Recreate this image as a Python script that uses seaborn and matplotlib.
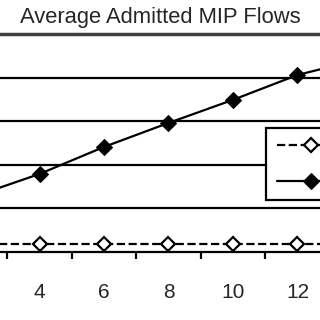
import seaborn as sns
import matplotlib.pyplot as plt
import pandas as pd

# values (y in the chart's hidden units, 0..50)
flows = [2, 4, 6, 8, 10, 12, 14]
dashed_vals = [1.8, 1.8, 1.8, 1.8, 1.8, 1.8, 1.8]
solid_vals = [12.8, 17.9, 24.1, 29.6, 34.9, 40.6, 44.3]
tick_labels = ["4", "6", "8", "10", "12"]

sns.set_style("white")
plt.rcParams["font.family"] = ["Liberation Sans", "DejaVu Sans"]

df = pd.DataFrame({"flows": flows, "dashed": dashed_vals, "solid": solid_vals})

fig = plt.figure(figsize=(3.2, 3.2), dpi=100)
ax = fig.add_axes([0, 0.2125, 1, 0.68125])

sns.lineplot(data=df, x="flows", y="dashed", ax=ax, color="black", linestyle="--",
             linewidth=1.6, marker="D", markersize=7, markerfacecolor="white",
             markeredgecolor="black", markeredgewidth=1.6)
sns.lineplot(data=df, x="flows", y="solid", ax=ax, color="black", linestyle="-",
             linewidth=1.6, marker="D", markersize=8, markerfacecolor="black",
             markeredgecolor="black")

ax.set_xlim(2.775, 12.698)
ax.set_ylim(0, 50)
ax.set_yticks([10, 20, 30, 40])
ax.yaxis.grid(True, color="black", linewidth=1.6)
ax.set_axisbelow(True)
ax.tick_params(axis="y", left=False, labelleft=False)

ax.set_xticks([3, 5, 7, 9, 11])
ax.set_xticklabels([])
ax.set_xticks([4, 6, 8, 10, 12], minor=True)
ax.set_xticklabels(tick_labels, minor=True)
ax.tick_params(axis="x", which="major", direction="out", length=5, width=1.6,
               color="black", bottom=True)
ax.tick_params(axis="x", which="minor", length=0, labelsize=15, pad=22)
ax.set_xlabel("")
ax.set_ylabel("")

for side in ["left", "right"]:
    ax.spines[side].set_visible(False)
ax.spines["top"].set_color("#404040")
ax.spines["top"].set_linewidth(2.5)
ax.spines["bottom"].set_color("black")
ax.spines["bottom"].set_linewidth(1.6)

fig.text(0.5, 0.945, "Average Admitted MIP Flows", ha="center", va="center",
         fontsize=15.8)

# legend labels fall outside the cropped picture, so only the handles show
leg = ax.legend(handles=ax.lines[:2], labels=["", ""], loc="upper left",
                bbox_to_anchor=(266 / 320, 1 - 128 / 320),
                bbox_transform=fig.transFigure, borderaxespad=0, frameon=True,
                fancybox=False, framealpha=1, edgecolor="black", fontsize=10,
                handlelength=4.9, labelspacing=1.6, borderpad=0.8)
leg.get_frame().set_linewidth(1.6)

fig.savefig("out.png", dpi=100)
